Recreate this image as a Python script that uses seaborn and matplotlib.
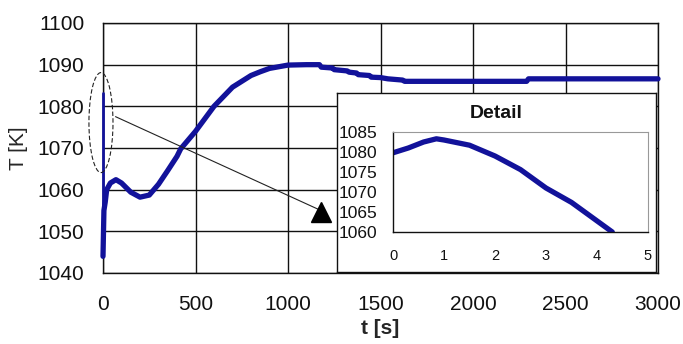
import matplotlib
matplotlib.use("Agg")
import matplotlib.pyplot as plt
from matplotlib.patches import Ellipse
import seaborn as sns
import pandas as pd

# ---- data ----
t_main = [0, 5, 12, 20, 40, 70, 100, 150, 200, 250, 300, 350, 400, 420, 500, 560,
          600, 700, 800, 850, 900, 1000, 1100, 1170, 1180, 1240, 1250, 1320, 1330,
          1370, 1380, 1440, 1450, 1500, 1540, 1620, 1630, 2290, 2300, 3000]
T_main = [1044, 1055, 1057, 1060, 1061.6, 1062.4, 1061.6, 1059.4, 1058.2, 1058.7,
          1061.3, 1064.6, 1068.0, 1069.8, 1074.0, 1077.6, 1080.0, 1084.6, 1087.4,
          1088.3, 1089.1, 1089.9, 1090.0, 1090.0, 1089.4, 1089.2, 1088.8, 1088.5,
          1088.2, 1088.0, 1087.6, 1087.4, 1087.0, 1086.9, 1086.6, 1086.3, 1086.0,
          1086.0, 1086.6, 1086.6]
t_spike = [0, 0]
T_spike = [1044, 1083.3]

t_detail = [0, 0.3, 0.6, 0.85, 1.0, 1.5, 2.0, 2.5, 3.0, 3.5, 3.9, 4.3]
T_detail = [1079.8, 1081.0, 1082.5, 1083.3, 1083.0, 1081.7, 1079.0, 1075.6,
            1071.0, 1067.4, 1063.7, 1060.0]

x_ticks_main = [0, 500, 1000, 1500, 2000, 2500, 3000]
y_ticks_main = [1040, 1050, 1060, 1070, 1080, 1090, 1100]
x_ticks_detail = [0, 1, 2, 3, 4, 5]
y_ticks_detail = [1060, 1065, 1070, 1075, 1080, 1085]

BLUE = "#12129a"

sns.set_style("white")
plt.rcParams["font.family"] = ["Liberation Sans", "DejaVu Sans"]

W, H = 683, 344
fig = plt.figure(figsize=(W / 100, H / 100), dpi=100)

def fx(px):
    return px / W

def fy(py):
    return 1 - py / H

# ---- main axes ----
ax = fig.add_axes([fx(103), fy(273), fx(658) - fx(103), fy(23) - fy(273)])
df_main = pd.DataFrame({"t": t_main, "T": T_main})
df_spike = pd.DataFrame({"t": t_spike, "T": T_spike})
sns.lineplot(data=df_main, x="t", y="T", sort=False, estimator=None,
             color=BLUE, lw=3.8, ax=ax)
sns.lineplot(data=df_spike, x="t", y="T", sort=False, estimator=None,
             color=BLUE, lw=2.0, ax=ax)
for ln in ax.lines:
    ln.set_clip_on(False)
    ln.set_zorder(10)
ax.set_xlim(0, 3000)
ax.set_ylim(1040, 1100)
ax.set_xticks(x_ticks_main)
ax.set_yticks(y_ticks_main)
ax.set_xticklabels([str(v) for v in x_ticks_main])
ax.set_yticklabels([str(v) for v in y_ticks_main])
ax.grid(True, color="#111111", lw=1.0)
ax.set_axisbelow(True)
for s in ax.spines.values():
    s.set_color("#111111")
    s.set_linewidth(1.0)
    s.set_zorder(2)
ax.tick_params(axis="both", direction="out", length=5, width=1.0, color="#111111",
               labelsize=15, labelcolor="#111111")
ax.tick_params(axis="y", pad=8.5)
ax.tick_params(axis="x", pad=10.5)
ax.set_xlabel("t [s]", fontsize=15, fontweight="bold", labelpad=4)
ax.set_ylabel("T [K]", fontsize=15, labelpad=7)

# ellipse highlight and arrow
ell = Ellipse((-11, 1076.1), width=130, height=24, fill=False, ec="#222222",
              lw=0.8, ls=(0, (4, 2)), clip_on=False, zorder=11)
ax.add_patch(ell)
ax.annotate("", xy=(1178, 1055.0), xytext=(54, 1077.8),
            arrowprops=dict(arrowstyle="-", color="#222222", lw=0.8), zorder=11)
ax.plot([1178], [1054.6], marker="^", ms=15, color="black", zorder=12, clip_on=False)

# ---- inset box ----
box = fig.add_axes([fx(337), fy(272), fx(656) - fx(337), fy(93) - fy(272)])
box.set_xticks([])
box.set_yticks([])
box.set_facecolor("white")
for s in box.spines.values():
    s.set_color("#111111")
    s.set_linewidth(1.0)
box.text(0.5, 0.885, "Detail", transform=box.transAxes, ha="center", va="center",
         fontsize=14, fontweight="bold", color="#111111")

# ---- inset axes ----
ax2 = fig.add_axes([fx(393), fy(232), fx(648) - fx(393), fy(132) - fy(232)])
df_det = pd.DataFrame({"t": t_detail, "T": T_detail})
sns.lineplot(data=df_det, x="t", y="T", sort=False, estimator=None,
             color=BLUE, lw=3.8, ax=ax2)
ax2.set_xlim(0, 5)
ax2.set_ylim(1060, 1085)
ax2.set_xticks(x_ticks_detail)
ax2.set_yticks(y_ticks_detail)
ax2.set_xticklabels([str(v) for v in x_ticks_detail])
ax2.set_yticklabels([str(v) for v in y_ticks_detail])
ax2.set_xlabel("")
ax2.set_ylabel("")
for k in ("top", "right"):
    ax2.spines[k].set_color("#999999")
    ax2.spines[k].set_linewidth(0.8)
for k in ("left", "bottom"):
    ax2.spines[k].set_color("#111111")
    ax2.spines[k].set_linewidth(1.0)
ax2.tick_params(axis="both", direction="out", length=4, width=1.0, color="#111111",
                labelcolor="#111111")
ax2.tick_params(axis="y", labelsize=12.5, pad=7)
ax2.tick_params(axis="x", labelsize=10.5, pad=8)

fig.savefig("out.png", dpi=100)
